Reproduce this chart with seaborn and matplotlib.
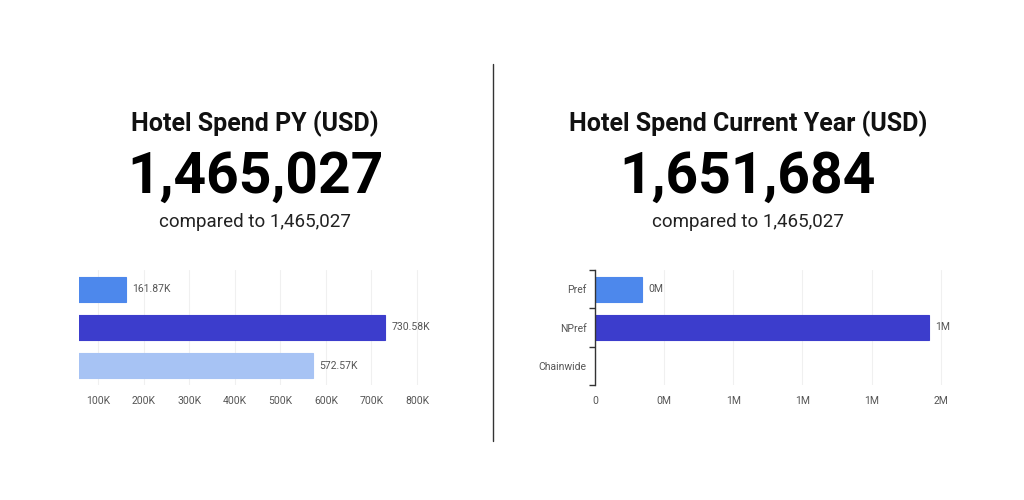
import matplotlib
matplotlib.use("Agg")
import matplotlib.pyplot as plt
import numpy as np
import pandas as pd
import seaborn as sns

# data
categories = ["Pref", "NPref", "Chainwide"]
py_values = [161870, 730580, 572570]
py_labels = ["161.87K", "730.58K", "572.57K"]
py_ticks = [100000, 200000, 300000, 400000, 500000, 600000, 700000, 800000]
py_tick_labels = ["100K", "200K", "300K", "400K", "500K", "600K", "700K", "800K"]

cy_values = [272000, 1930000, 0]
cy_labels = ["0M", "1M", ""]
cy_ticks = [0, 400000, 800000, 1200000, 1600000, 2000000]
cy_tick_labels = ["0", "0M", "1M", "1M", "1M", "2M"]

py_colors = ["#4d88ec", "#3c3dcc", "#a7c3f4"]
cy_colors = ["#4d88ec", "#3c3dcc", "#a7c3f4"]

titles = ["Hotel Spend PY (USD)", "Hotel Spend Current Year (USD)"]
totals = ["1,465,027", "1,651,684"]
compared = ["compared to 1,465,027", "compared to 1,465,027"]

sns.set_theme(style="white")
plt.rcParams["font.family"] = ["Roboto", "DejaVu Sans"]

fig = plt.figure(figsize=(10.24, 5.0), dpi=100)
fig.patch.set_facecolor("white")

W, H = 1024, 500


def px_axes(x0, y0, x1, y1):
    return fig.add_axes([x0 / W, 1 - y1 / H, (x1 - x0) / W, (y1 - y0) / H])


grey = "#555555"


def draw_bars(ax, values, labels, colors, ticks, tick_labels, xlim, show_y):
    df = pd.DataFrame({"cat": categories, "val": values})
    sns.barplot(data=df, x="val", y="cat", hue="cat", palette=colors, legend=False,
                orient="h", width=0.66, ax=ax, saturation=1)
    for patch, c in zip(ax.patches, colors):
        patch.set_edgecolor(c)
        patch.set_linewidth(0.8)
    ax.set_xlim(*xlim)
    ax.set_xticks(ticks)
    ax.set_xticklabels(tick_labels, fontsize=7.5, color=grey)
    ax.set_xlabel("")
    ax.set_ylabel("")
    ax.grid(True, axis="x", color="#f0f0f0", linewidth=0.8)
    ax.set_axisbelow(True)
    ax.tick_params(axis="x", length=0, pad=8)
    for s in ["top", "right", "bottom"]:
        ax.spines[s].set_visible(False)
    span = xlim[1] - xlim[0]
    for i, (v, lab) in enumerate(zip(values, labels)):
        if lab:
            ax.text(v + span * 0.017, i, lab, va="center", ha="left", fontsize=7.5, color=grey)
    if show_y:
        ax.spines["left"].set_visible(True)
        ax.spines["left"].set_color("#333333")
        ax.spines["left"].set_linewidth(1.0)
        ax.set_yticks(range(len(categories)))
        ax.set_yticklabels(categories, fontsize=7.5, color=grey)
        ax.tick_params(axis="y", which="major", length=0, pad=6)
        ax.set_yticks(np.arange(-0.5, len(categories), 1.0), minor=True)
        ax.tick_params(axis="y", which="minor", length=4, width=1.0, color="#333333", left=True)
    else:
        ax.spines["left"].set_visible(False)
        ax.set_yticks([])
    ax.set_ylim(len(categories) - 0.5, -0.5)


ax_l = px_axes(79, 270, 433, 385)
draw_bars(ax_l, py_values, py_labels, py_colors, py_ticks, py_tick_labels,
          (58000, 835000), False)

ax_r = px_axes(595, 270, 946, 385)
draw_bars(ax_r, cy_values, cy_labels, cy_colors, cy_ticks, cy_tick_labels,
          (0, 2030000), True)

# headline text
for cx, t, tot, cmp_ in zip([255, 748], titles, totals, compared):
    fig.text(cx / W, 1 - 124 / H, t, ha="center", va="center", fontsize=18,
             fontweight="bold", color="#111111")
    fig.text(cx / W, 1 - 177 / H, tot, ha="center", va="center", fontsize=41,
             fontweight="bold", color="#000000")
    fig.text(cx / W, 1 - 222 / H, cmp_, ha="center", va="center", fontsize=13.5,
             color="#222222")

# divider
fig.add_artist(plt.Line2D([493 / W, 493 / W], [1 - 64 / H, 1 - 441 / H],
                          color="#333333", linewidth=1.0))

fig.savefig("out.png", dpi=100, facecolor="white")
